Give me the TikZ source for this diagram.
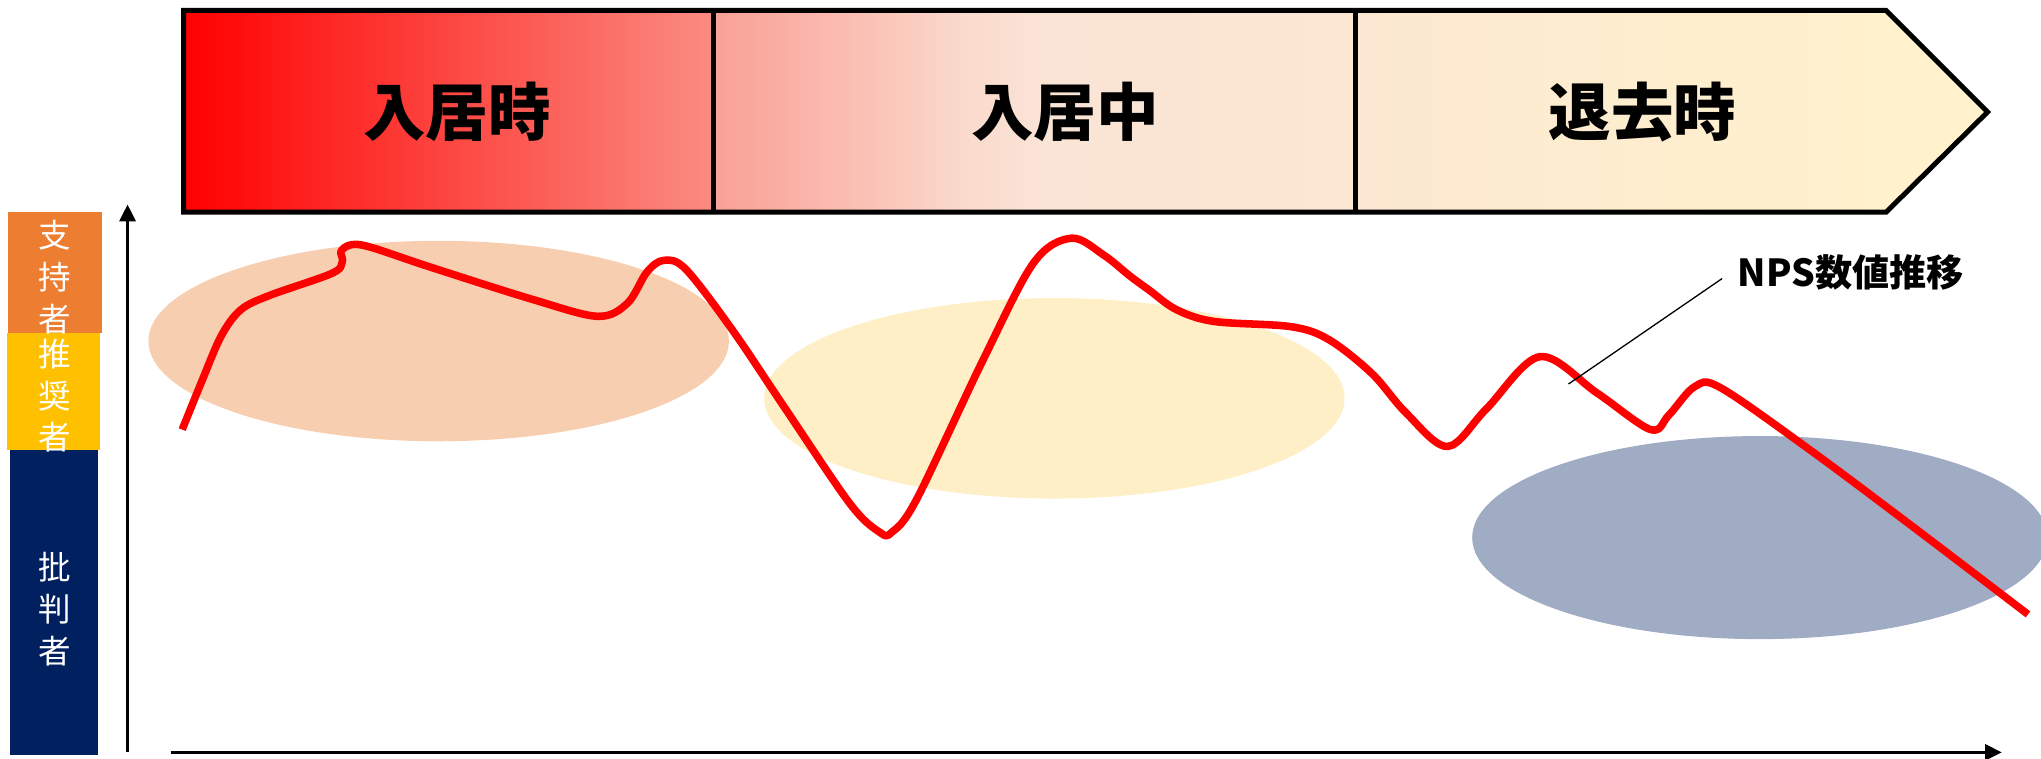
\documentclass[tikz,border=0pt]{standalone}
\usepackage{fontspec}
\newfontfamily\jp{Noto Sans CJK JP}
\usetikzlibrary{arrows.meta}
\definecolor{barorange}{HTML}{ED7D31}
\definecolor{baryellow}{HTML}{FFC000}
\definecolor{barnavy}{HTML}{002060}
\definecolor{ellpeach}{HTML}{F7CEB0}
\definecolor{ellcream}{HTML}{FFEFC6}
\definecolor{ellgrey}{HTML}{A0ACC4}
\definecolor{hA}{HTML}{FF0000}
\definecolor{hB}{HTML}{FA8C82}
\definecolor{hC}{HTML}{F9A096}
\definecolor{hD}{HTML}{FBBFB3}
\definecolor{hE}{HTML}{FAD9CC}
\definecolor{hF}{HTML}{FAE4D6}
\definecolor{hG}{HTML}{FBE7D3}
\definecolor{hH}{HTML}{FCE8D2}
\definecolor{hI}{HTML}{FFF2CC}
\definecolor{npsred}{HTML}{FF0000}
\tikzset{
  sidelbl/.style={text=white, align=center, inner sep=0pt,
    font=\jp\fontsize{12.5}{16}\selectfont},
  phaselbl/.style={inner sep=0pt, font=\jp\bfseries\fontsize{24}{28}\selectfont},
  npslbl/.style={inner sep=0pt, font=\jp\bfseries\fontsize{14.3}{16}\selectfont},
  axisline/.style={line width=1.4pt, -{Triangle[length=6.5pt,width=6pt]}},
  npsline/.style={draw=npsred, line width=2.9pt, line join=round},
  hdrline/.style={draw=black, line width=1.9pt, line join=miter},
}
\begin{document}
\begin{tikzpicture}[x=0.5pt,y=-0.5pt]
\useasboundingbox (0,0) rectangle (1568,583);

% side bars
\fill[barorange] (6,163) rectangle (78,256);
\fill[baryellow] (5,256) rectangle (77,346);
\fill[barnavy] (8,346) rectangle (75,580);
\node[sidelbl] (sup) at (42,213) {支\\持\\者};
\node[sidelbl] (rec) at (42,304) {推\\奨\\者};
\node[sidelbl] (cri) at (42,468) {批\\判\\者};

% ellipses
\fill[ellpeach] (337,262) ellipse [x radius=223, y radius=77];
\fill[ellcream] (810,306) ellipse [x radius=223, y radius=77];
\fill[ellgrey] (1352,413) ellipse [x radius=221, y radius=78];

% header arrow with gradient
\begin{scope}
\clip (141,8) -- (1449,8) -- (1527,86) -- (1449,163) -- (141,163) -- cycle;
\shade[left color=hA, right color=hB] (140,0) rectangle (548.5,170);
\shade[left color=hC, right color=hD] (548,0) rectangle (657.5,170);
\shade[left color=hD, right color=hE] (657,0) rectangle (735.5,170);
\shade[left color=hE, right color=hF] (735,0) rectangle (800.5,170);
\shade[left color=hF, right color=hG] (800,0) rectangle (1041.5,170);
\shade[left color=hH, right color=hI] (1041,0) rectangle (1449.5,170);
\fill[hI] (1449,0) rectangle (1530,170);
\end{scope}
\draw[hdrline] (141,8) -- (1449,8) -- (1527,86) -- (1449,163) -- (141,163) -- cycle;
\draw[hdrline] (548,8) -- (548,163);
\draw[hdrline] (1041,8) -- (1041,163);
\node[phaselbl] (p1) at (351,86) {入居時};
\node[phaselbl] (p2) at (818,86) {入居中};
\node[phaselbl] (p3) at (1262,86) {退去時};

% axes
\coordinate (vbot) at (98,578);
\coordinate (vtop) at (98,157);
\coordinate (hleft) at (131,578);
\coordinate (hright) at (1538,578);
\draw[axisline] (vbot) -- (vtop);
\draw[axisline] (hleft) -- (hright);

% NPS curve
\draw[npsline] plot[smooth, tension=0.55] coordinates {
 (140,330) (155,293) (170,258) (185,238) (207,227) (255,210) (263,201)
 (262,193) (270,188) (285,190) (330,205) (409,230) (459,243) (482,233)
 (497,209) (510,200) (527,207) (563,254) (602,312) (653,387) (676,409)
 (685,409) (704,384) (755,277) (794,202) (823,183) (848,196) (868,212)
 (883,223) (904,238) (933,247) (992,251) (1021,261) (1054,287) (1080,317)
 (1112,343) (1142,314) (1183,274) (1227,302) (1268,330) (1282,319)
 (1302,297) (1322,298) (1391,346) (1470,405) (1558,472)};

% label with leader
\node[npslbl] (nps) at (1422,209) {NPS数値推移};
\coordinate (lead0) at (1323,214);
\coordinate (lead1) at (1205,295);
\draw[line width=0.5pt] (lead0) -- (lead1);
\end{tikzpicture}
\end{document}
